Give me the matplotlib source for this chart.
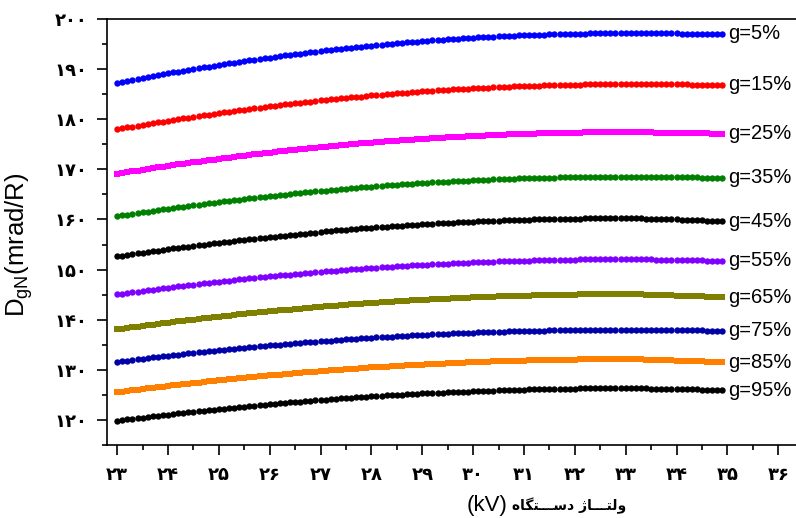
import numpy as np
import matplotlib
matplotlib.use("Agg")
import matplotlib.pyplot as plt
from matplotlib.ticker import MultipleLocator

plt.rcParams['font.family'] = ['Liberation Sans', 'DejaVu Sans']
plt.rcParams['mathtext.default'] = 'regular'

# device voltage grid (kV), one reading every 0.1 kV
kv = np.round(np.arange(230, 350) / 10.0, 1)

# dose readings (mrad/R) per grid fraction g
g5 = [187.3, 187.5, 187.7, 187.9, 188.1, 188.3, 188.5, 188.6, 188.8, 189.0,
      189.2, 189.4, 189.5, 189.7, 189.9, 190.0, 190.2, 190.4, 190.5, 190.7,
      190.9, 191.0, 191.2, 191.3, 191.5, 191.6, 191.8, 191.9, 192.1, 192.2,
      192.3, 192.5, 192.6, 192.8, 192.9, 193.0, 193.1, 193.3, 193.4, 193.5,
      193.6, 193.8, 193.9, 194.0, 194.1, 194.2, 194.3, 194.4, 194.5, 194.6,
      194.7, 194.8, 194.9, 195.0, 195.1, 195.2, 195.3, 195.4, 195.5, 195.5,
      195.6, 195.7, 195.8, 195.8, 195.9, 196.0, 196.1, 196.1, 196.2, 196.2,
      196.3, 196.4, 196.4, 196.5, 196.5, 196.6, 196.6, 196.7, 196.7, 196.8,
      196.8, 196.8, 196.9, 196.9, 196.9, 197.0, 197.0, 197.0, 197.1, 197.1,
      197.1, 197.1, 197.1, 197.2, 197.2, 197.2, 197.2, 197.2, 197.2, 197.2] \
     + [197.2] * 11 + [197.1] * 9
g15 = [178.0, 178.2, 178.4, 178.5, 178.7, 178.9, 179.0, 179.2, 179.4, 179.5,
       179.7, 179.9, 180.0, 180.2, 180.3, 180.5, 180.6, 180.8, 180.9, 181.1,
       181.2, 181.4, 181.5, 181.7, 181.8, 181.9, 182.1, 182.2, 182.3, 182.5,
       182.6, 182.7, 182.8, 183.0, 183.1, 183.2, 183.3, 183.4, 183.5, 183.6,
       183.8, 183.9, 184.0, 184.1, 184.2, 184.3, 184.4, 184.5, 184.5, 184.7,
       184.8, 184.8, 184.9, 185.0, 185.1, 185.2, 185.3, 185.3, 185.4, 185.5,
       185.6, 185.6, 185.7, 185.8, 185.8, 185.9, 186.0, 186.0, 186.1, 186.1,
       186.2, 186.2, 186.3, 186.3, 186.4, 186.4, 186.5, 186.5, 186.6, 186.6,
       186.6, 186.7, 186.7, 186.7, 186.8, 186.8, 186.8, 186.9, 186.9, 186.9,
       186.9, 186.9, 187.0, 187.0, 187.0, 187.0, 187.0, 187.0, 187.0, 187.0] \
      + [187.0] * 13 + [186.9] * 7
g25 = [169.1, 169.3, 169.4, 169.6, 169.7, 169.9, 170.1, 170.2, 170.4, 170.5,
       170.7, 170.8, 171.0, 171.1, 171.3, 171.4, 171.5, 171.7, 171.8, 171.9,
       172.1, 172.2, 172.3, 172.5, 172.6, 172.7, 172.9, 173.0, 173.1, 173.2,
       173.3, 173.4, 173.6, 173.7, 173.8, 173.9, 174.0, 174.1, 174.2, 174.3,
       174.4, 174.5, 174.6, 174.7, 174.8, 174.9, 175.0, 175.1, 175.2, 175.2,
       175.3, 175.4, 175.5, 175.6, 175.6, 175.7, 175.8, 175.9, 175.9, 176.0,
       176.1, 176.1, 176.2, 176.3, 176.3, 176.4, 176.4, 176.5, 176.5, 176.6,
       176.7, 176.7, 176.7, 176.8, 176.8, 176.9, 176.9, 177.0, 177.0, 177.0,
       177.1, 177.1, 177.1, 177.2, 177.2, 177.2, 177.2, 177.3, 177.3, 177.3,
       177.3, 177.3, 177.4, 177.4, 177.4, 177.4, 177.4, 177.4, 177.4, 177.4] \
      + [177.4] * 6 + [177.3] * 6 + [177.2] * 5 + [177.1] * 3
g35 = [160.6, 160.8, 160.9, 161.1, 161.2, 161.4, 161.5, 161.7, 161.8, 162.0,
       162.1, 162.2, 162.4, 162.5, 162.7, 162.8, 162.9, 163.0, 163.2, 163.3,
       163.4, 163.6, 163.7, 163.8, 163.9, 164.1, 164.2, 164.3, 164.4, 164.5,
       164.6, 164.7, 164.8, 164.9, 165.1, 165.2, 165.3, 165.4, 165.5, 165.6,
       165.7, 165.7, 165.8, 165.9, 166.0, 166.1, 166.2, 166.3, 166.4, 166.4,
       166.5, 166.6, 166.7, 166.8, 166.8, 166.9, 167.0, 167.0, 167.1, 167.2,
       167.2, 167.3, 167.4, 167.4, 167.5, 167.5, 167.6, 167.6, 167.7, 167.7,
       167.8, 167.8, 167.9, 167.9, 168.0, 168.0, 168.0, 168.1, 168.1, 168.2,
       168.2, 168.2, 168.3, 168.3, 168.3, 168.3, 168.3, 168.4, 168.4, 168.4,
       168.4, 168.4, 168.4, 168.5, 168.5, 168.5, 168.5, 168.5, 168.5, 168.5] \
      + [168.5] * 8 + [168.4] * 7 + [168.3] * 5
g45 = [152.7, 152.8, 153.0, 153.1, 153.3, 153.4, 153.6, 153.7, 153.8, 154.0,
       154.1, 154.3, 154.4, 154.5, 154.6, 154.8, 154.9, 155.0, 155.2, 155.3,
       155.4, 155.5, 155.6, 155.7, 155.9, 156.0, 156.1, 156.2, 156.3, 156.4,
       156.5, 156.6, 156.7, 156.8, 156.9, 157.0, 157.1, 157.2, 157.3, 157.4,
       157.5, 157.6, 157.7, 157.8, 157.8, 157.9, 158.0, 158.1, 158.2, 158.2,
       158.3, 158.4, 158.5, 158.5, 158.6, 158.7, 158.7, 158.8, 158.9, 158.9,
       159.0, 159.1, 159.1, 159.2, 159.2, 159.3, 159.3, 159.4, 159.4, 159.5,
       159.5, 159.6, 159.6, 159.6, 159.7, 159.7, 159.8, 159.8, 159.8, 159.9,
       159.9, 159.9, 160.0, 160.0, 160.0, 160.0, 160.1, 160.1, 160.1, 160.1,
       160.1, 160.1, 160.2, 160.2, 160.2, 160.2, 160.2, 160.2, 160.2, 160.2] \
      + [160.2] * 4 + [160.1] * 4 + [160.0] * 3 + [159.9] * 3 \
      + [159.8] * 2 + [159.7] * 2 + [159.6] * 2
g55 = [145.1, 145.2, 145.4, 145.5, 145.6, 145.8, 145.9, 146.0, 146.2, 146.3,
       146.4, 146.6, 146.7, 146.8, 146.9, 147.0, 147.2, 147.3, 147.4, 147.5,
       147.6, 147.7, 147.8, 147.9, 148.1, 148.2, 148.3, 148.4, 148.5, 148.6,
       148.7, 148.8, 148.9, 149.0, 149.0, 149.1, 149.2, 149.3, 149.4, 149.5,
       149.6, 149.7, 149.7, 149.8, 149.9, 150.0, 150.1, 150.1, 150.2, 150.3,
       150.4, 150.4, 150.5, 150.5, 150.6, 150.7, 150.7, 150.8, 150.9, 150.9,
       151.0, 151.0, 151.1, 151.1, 151.2, 151.2, 151.3, 151.3, 151.4, 151.4,
       151.5, 151.5, 151.5, 151.6, 151.6, 151.7, 151.7, 151.7, 151.8, 151.8,
       151.8, 151.8, 151.9, 151.9, 151.9, 151.9, 152.0, 152.0, 152.0, 152.0,
       152.0, 152.1, 152.1, 152.1, 152.1, 152.1, 152.1, 152.1, 152.1, 152.1] \
      + [152.1] * 6 + [152.0] * 5 + [151.9] * 5 + [151.8] * 4
g65 = [138.1, 138.2, 138.4, 138.5, 138.6, 138.8, 138.9, 139.0, 139.2, 139.3,
       139.4, 139.6, 139.7, 139.8, 139.9, 140.0, 140.2, 140.3, 140.4, 140.5,
       140.6, 140.7, 140.8, 140.9, 141.1, 141.2, 141.3, 141.4, 141.5, 141.6,
       141.7, 141.8, 141.9, 142.0, 142.0, 142.1, 142.2, 142.3, 142.4, 142.5,
       142.6, 142.7, 142.7, 142.8, 142.9, 143.0, 143.1, 143.1, 143.2, 143.3,
       143.4, 143.4, 143.5, 143.5, 143.6, 143.7, 143.7, 143.8, 143.9, 143.9,
       144.0, 144.0, 144.1, 144.1, 144.2, 144.2, 144.3, 144.3, 144.4, 144.4,
       144.5, 144.5, 144.5, 144.6, 144.6, 144.7, 144.7, 144.7, 144.8, 144.8,
       144.8, 144.8, 144.9, 144.9, 144.9, 144.9, 145.0, 145.0, 145.0, 145.0,
       145.0, 145.1, 145.1, 145.1, 145.1, 145.1, 145.1, 145.1, 145.1, 145.1] \
      + [145.1] * 4 + [145.0] * 3 + [144.9] * 3 + [144.8] * 3 \
      + [144.7] * 3 + [144.6] * 2 + [144.5] * 2
g75 = [131.6, 131.7, 131.8, 132.0, 132.1, 132.2, 132.3, 132.5, 132.6, 132.7,
       132.8, 132.9, 133.0, 133.2, 133.3, 133.4, 133.5, 133.6, 133.7, 133.8,
       133.9, 134.0, 134.1, 134.2, 134.3, 134.4, 134.5, 134.6, 134.7, 134.8,
       134.9, 134.9, 135.0, 135.1, 135.2, 135.3, 135.4, 135.5, 135.5, 135.6,
       135.7, 135.8, 135.8, 135.9, 136.0, 136.1, 136.1, 136.2, 136.3, 136.3,
       136.4, 136.5, 136.5, 136.6, 136.6, 136.7, 136.8, 136.8, 136.9, 136.9,
       137.0, 137.0, 137.1, 137.1, 137.2, 137.2, 137.3, 137.3, 137.3, 137.4,
       137.4, 137.5, 137.5, 137.5, 137.6, 137.6, 137.6, 137.7, 137.7, 137.7,
       137.7, 137.8, 137.8, 137.8, 137.8, 137.9, 137.9, 137.9, 137.9, 137.9,
       137.9, 138.0, 138.0, 138.0, 138.0, 138.0, 138.0, 138.0, 138.0, 138.0] \
      + [138.0] * 9 + [137.9] * 7 + [137.8] * 4
g85 = [125.5, 125.6, 125.8, 125.9, 126.0, 126.1, 126.3, 126.4, 126.5, 126.6,
       126.8, 126.9, 127.0, 127.1, 127.2, 127.3, 127.4, 127.5, 127.7, 127.8,
       127.9, 128.0, 128.1, 128.2, 128.3, 128.4, 128.5, 128.6, 128.7, 128.8,
       128.9, 129.0, 129.0, 129.1, 129.2, 129.3, 129.4, 129.5, 129.6, 129.6,
       129.7, 129.8, 129.9, 129.9, 130.0, 130.1, 130.2, 130.2, 130.3, 130.4,
       130.5, 130.5, 130.6, 130.6, 130.7, 130.8, 130.8, 130.9, 130.9, 131.0,
       131.0, 131.1, 131.1, 131.2, 131.2, 131.3, 131.3, 131.4, 131.4, 131.5,
       131.5, 131.5, 131.6, 131.6, 131.7, 131.7, 131.7, 131.8, 131.8, 131.8,
       131.8, 131.9, 131.9, 131.9, 131.9, 132.0, 132.0, 132.0, 132.0, 132.0,
       132.0, 132.1, 132.1, 132.1, 132.1, 132.1, 132.1, 132.1, 132.1, 132.1] \
      + [132.1] * 4 + [132.0] * 3 + [131.9] * 3 + [131.8] * 3 \
      + [131.7] * 3 + [131.6] * 2 + [131.5] * 2
g95 = [119.8, 119.9, 120.1, 120.2, 120.3, 120.4, 120.6, 120.7, 120.8, 120.9,
       121.0, 121.1, 121.3, 121.4, 121.5, 121.6, 121.7, 121.8, 121.9, 122.0,
       122.1, 122.2, 122.3, 122.4, 122.5, 122.6, 122.7, 122.8, 122.9, 123.0,
       123.1, 123.2, 123.3, 123.4, 123.5, 123.6, 123.6, 123.7, 123.8, 123.9,
       124.0, 124.0, 124.1, 124.2, 124.3, 124.3, 124.4, 124.5, 124.5, 124.6,
       124.7, 124.7, 124.8, 124.9, 124.9, 125.0, 125.0, 125.1, 125.1, 125.2,
       125.3, 125.3, 125.3, 125.4, 125.4, 125.5, 125.5, 125.6, 125.6, 125.6,
       125.7, 125.7, 125.8, 125.8, 125.8, 125.9, 125.9, 125.9, 126.0, 126.0,
       126.0, 126.1, 126.1, 126.1, 126.1, 126.2, 126.2, 126.2, 126.2, 126.2,
       126.2, 126.3, 126.3, 126.3, 126.3, 126.3, 126.3, 126.3, 126.3, 126.3] \
      + [126.3] * 5 + [126.2] * 5 + [126.1] * 5 + [126.0] * 3 + [125.9] * 2

series = [g5, g15, g25, g35, g45, g55, g65, g75, g85, g95]
labels = ["g=5%", "g=15%", "g=25%", "g=35%", "g=45%",
          "g=55%", "g=65%", "g=75%", "g=85%", "g=95%"]
colors = ["#0000ff", "#ff0000", "#ff00ff", "#008000", "#000000",
          "#8000ff", "#808000", "#0000a8", "#ff8000", "#000000"]
markers = ["o", "o", "s", "o", "o", "o", "s", "o", "s", "o"]

FA = str.maketrans("0123456789", "۰۱۲۳۴۵۶۷۸۹")


def fa(n):
    return str(n).translate(FA)


fig = plt.figure(figsize=(7.96, 5.18), dpi=100)
ax = fig.add_axes([107 / 796, 73 / 518, 689 / 796, 426 / 518])

for vals, lab, col, mk in zip(series, labels, colors, markers):
    ms = 4.3 if mk == "s" else 4.6
    ax.plot(kv, vals, ls="none", marker=mk, ms=ms, color=col, mew=0)
    ax.annotate(lab, (kv[-1], vals[-1]), xytext=(4.5, 0),
                textcoords="offset points", va="center", ha="left",
                fontsize=14.5, annotation_clip=False)

ax.set_xlim(22.8, 36.35)
ax.set_ylim(115, 200)
ax.spines["right"].set_visible(False)
for s in ("left", "bottom", "top"):
    ax.spines[s].set_linewidth(1.2)

xt = list(range(23, 37))
yt = list(range(120, 201, 10))
ax.set_xticks(xt)
ax.set_xticklabels([fa(v) for v in xt])
ax.set_yticks(yt)
ax.set_yticklabels([fa(v) for v in yt])
ax.xaxis.set_minor_locator(MultipleLocator(0.5))
ax.yaxis.set_minor_locator(MultipleLocator(5))
ax.tick_params(which="major", direction="out", length=7, width=1.2)
ax.tick_params(which="minor", direction="out", length=3.6, width=1.2)
ax.tick_params(axis="x", which="major", pad=8)
ax.tick_params(axis="y", which="major", pad=7)
ax.tick_params(top=False, right=False, which="both")
for t in ax.get_xticklabels() + ax.get_yticklabels():
    t.set_fontfamily("DejaVu Sans")
    t.set_fontweight("bold")
    t.set_fontsize(13)

fig.text(19 / 796, 1 - 245 / 518, r"D$_{gN}$(mrad/R)", rotation=90,
         ha="center", va="center", fontsize=18.5)

# x label: "(kV)" then the Persian words, pre-shaped in visual order
fa_label = ("\ufee9\ufe8e\ufb95\ufe98\u0640\u0640\u0640\ufeb3\ufea9 "
            "\ufb8a\ufe8e\u0640\u0640\u0640\ufe98\ufedf\ufeed")
fig.text(507 / 796, 1 - 505 / 518, "(kV)", ha="right", va="center",
         fontsize=16)
fig.text(512 / 796, 1 - 506 / 518, fa_label, ha="left", va="center",
         fontsize=10, fontweight="bold", family="DejaVu Sans")

fig.savefig("out.png", dpi=100)
